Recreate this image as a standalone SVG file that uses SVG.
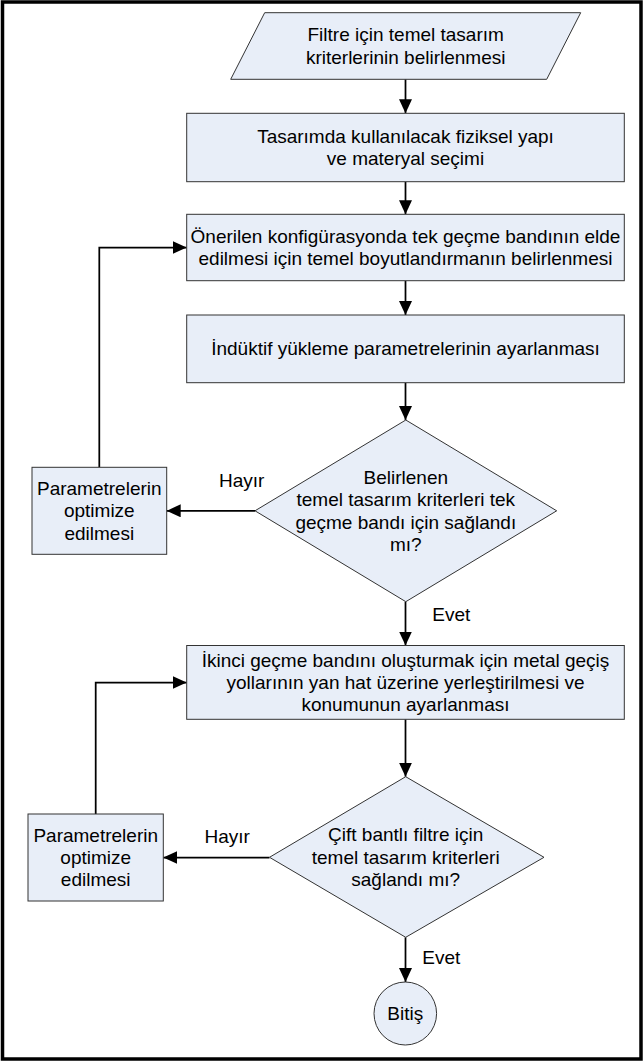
<svg xmlns="http://www.w3.org/2000/svg" width="644" height="1064" viewBox="0 0 644 1064">
<style>
.n{fill:#E8EEF8;stroke:#333;stroke-width:1}
.t{font-family:"Liberation Sans",Arial,sans-serif;font-size:19px;fill:#000;text-anchor:middle}
.l{font-family:"Liberation Sans",Arial,sans-serif;font-size:19px;fill:#000}
.c{fill:none;stroke:#000;stroke-width:1.75}
</style>
<defs>
<marker id="ah" markerUnits="userSpaceOnUse" markerWidth="14" markerHeight="13" refX="14" refY="6.5" orient="auto">
<path d="M0,0 L14,6.5 L0,13 z" fill="#000"/>
</marker>
</defs>
<rect x="2.5" y="2" width="638.5" height="1057" fill="#fff" stroke="#000" stroke-width="3.5"/>
<g id="connectors">
<path class="c" d="M405.5,79.3 V113.3" marker-end="url(#ah)"/>
<path class="c" d="M405.5,181.7 V214.3" marker-end="url(#ah)"/>
<path class="c" d="M405.5,280.7 V315" marker-end="url(#ah)"/>
<path class="c" d="M405.5,382.7 V420" marker-end="url(#ah)"/>
<path class="c" d="M255,510.8 H166.7" marker-end="url(#ah)"/>
<path class="c" d="M99.3,467.3 V247.5 H186.7" marker-end="url(#ah)"/>
<path class="c" d="M405.5,601.7 V645.5" marker-end="url(#ah)"/>
<path class="c" d="M405.5,719.3 V776.7" marker-end="url(#ah)"/>
<path class="c" d="M269.5,857.5 H163.3" marker-end="url(#ah)"/>
<path class="c" d="M95.7,814 V682.5 H186.7" marker-end="url(#ah)"/>
<path class="c" d="M405.5,937.3 V982" marker-end="url(#ah)"/>
<text class="l" x="219" y="486.7">Hayır</text>
<text class="l" x="432.3" y="621">Evet</text>
<text class="l" x="204.5" y="843.3">Hayır</text>
<text class="l" x="422.3" y="964">Evet</text>
</g>
<g id="start">
<polygon class="n" points="264.7,12.7 580.7,12.7 546.7,79.3 230.7,79.3"/>
<text class="t" x="405.7" y="41.3">Filtre için temel tasarım</text>
<text class="t" x="405.7" y="63.7">kriterlerinin belirlenmesi</text>
</g>
<g id="yapi">
<rect class="n" x="186.7" y="113.3" width="437.6" height="68.4"/>
<text class="t" x="405.5" y="142.8">Tasarımda kullanılacak fiziksel yapı</text>
<text class="t" x="405.5" y="165.2">ve materyal seçimi</text>
</g>
<g id="boyut">
<rect class="n" x="186.7" y="214.3" width="437.6" height="66.4"/>
<text class="t" x="405.5" y="242.8">Önerilen konfigürasyonda tek geçme bandının elde</text>
<text class="t" x="405.5" y="265.2">edilmesi için temel boyutlandırmanın belirlenmesi</text>
</g>
<g id="induktif">
<rect class="n" x="186.7" y="315" width="437.6" height="67.7"/>
<text class="t" x="405.5" y="355.4">İndüktif yükleme parametrelerinin ayarlanması</text>
</g>
<g id="karar1">
<polygon class="n" points="405.8,420 556.7,510.8 405.8,601.7 255,510.8"/>
<text class="t" x="405.8" y="483.7">Belirlenen</text>
<text class="t" x="405.8" y="506.1">temel tasarım kriterleri tek</text>
<text class="t" x="405.8" y="528.5">geçme bandı için sağlandı</text>
<text class="t" x="405.8" y="550.9">mı?</text>
</g>
<g id="optimize1">
<rect class="n" x="32" y="467.3" width="134.7" height="87"/>
<text class="t" x="99.3" y="494.9">Parametrelerin</text>
<text class="t" x="99.3" y="517.3">optimize</text>
<text class="t" x="99.3" y="539.7">edilmesi</text>
</g>
<g id="metal">
<rect class="n" x="186.7" y="645.5" width="437.6" height="73.8"/>
<text class="t" x="405.5" y="666.6">İkinci geçme bandını oluşturmak için metal geçiş</text>
<text class="t" x="405.5" y="689">yollarının yan hat üzerine yerleştirilmesi ve</text>
<text class="t" x="405.5" y="711.4">konumunun ayarlanması</text>
</g>
<g id="karar2">
<polygon class="n" points="405.7,776.7 544,857.3 405.7,937.3 269.5,857.3"/>
<text class="t" x="405.7" y="841.1">Çift bantlı filtre için</text>
<text class="t" x="405.7" y="863.5">temel tasarım kriterleri</text>
<text class="t" x="405.7" y="885.9">sağlandı mı?</text>
</g>
<g id="optimize2">
<rect class="n" x="28" y="814" width="135.3" height="87"/>
<text class="t" x="95.7" y="841.6">Parametrelerin</text>
<text class="t" x="95.7" y="864">optimize</text>
<text class="t" x="95.7" y="886.4">edilmesi</text>
</g>
<g id="bitis">
<ellipse class="n" cx="405.3" cy="1013.5" rx="31.3" ry="31.5"/>
<text class="t" x="405.3" y="1020">Bitiş</text>
</g>
</svg>
